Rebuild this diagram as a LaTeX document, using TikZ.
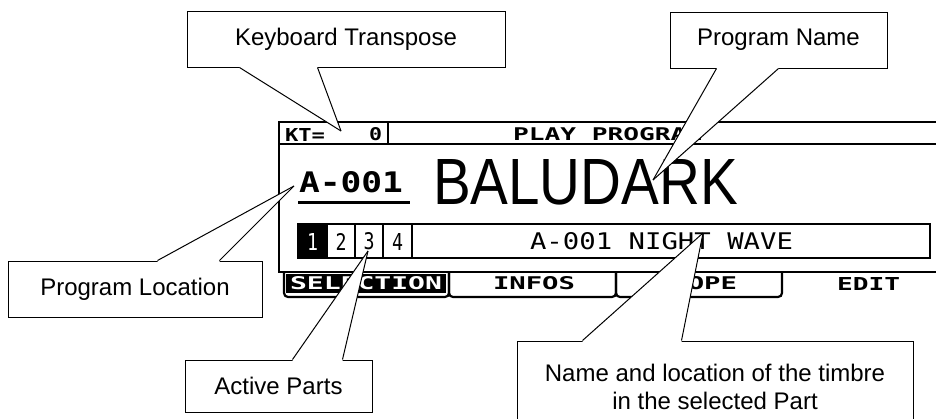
\documentclass[tikz,border=0pt]{standalone}
\usepackage{fontspec}
\setmainfont{Liberation Sans}
\newfontfamily\lcdfont{DejaVu Sans Mono}
\usepackage{graphicx}
\usetikzlibrary{calc}
\newcommand{\fitlcd}[3]{\resizebox{#1pt}{#2pt}{\lcdfont #3}}
\newcommand{\fitbig}[3]{\resizebox{#1pt}{#2pt}{#3}}
\begin{document}
\begin{tikzpicture}[x=1pt,y=-1pt,
  lcd/.style={line width=2.2pt},
  lcdtxt/.style={inner sep=0pt, outer sep=0pt, anchor=south west},
  callout/.style={draw, fill=white, line width=1pt, inner sep=0pt, align=center,
    font=\fontsize{24}{28}\selectfont},
  ptr/.style={line width=1pt}]
\clip (0,0) rectangle (936,418);
\fill[white] (0,0) rectangle (936,418);

% ---------- display ----------
\draw[lcd] (936,122) -- (279,122) -- (279,272) -- (936,272);
\draw[lcd] (279,144) -- (936,144);
\draw[lcd] (388,122) -- (388,144);
% tabs
\fill (286,273.5) rectangle (446,293);
\draw[lcd, rounded corners=4pt] (284,272) -- (284,297) -- (449,297) -- (449,272);
\draw[lcd, rounded corners=4pt] (449,272) -- (449,297) -- (616,297) -- (616,272);
\draw[lcd, rounded corners=4pt] (616,272) -- (616,297) -- (782,297) -- (782,272);
% parts row
\fill (298,224) rectangle (327,258);
\draw[lcd] (298,224) rectangle (930,258);
\draw[lcd] (327,224) -- (327,258);
\draw[lcd] (355,224) -- (355,258);
\draw[lcd] (383,224) -- (383,258);
\draw[lcd] (412,224) -- (412,258);
% underline
\draw[line width=3pt] (298,202.5) -- (410,202.5);

% texts
\node[lcdtxt] (kt0) at (285,141) {\fitlcd{40}{13}{\bfseries KT=}};
\node[lcdtxt] (kt0v) at (369,141) {\fitlcd{13}{13}{\bfseries 0}};
\node[lcdtxt] (play) at (513,141) {\fitlcd{189}{13}{\bfseries PLAY PROGRAM}};
\node[lcdtxt] (loc) at (299,193) {\fitlcd{104}{21}{\bfseries A-001}};
\node[lcdtxt] (bal) at (433,205) {\fitbig{305}{45}{BALUDARK}};
\node[lcdtxt, text=white] (p1) at (307,250) {\fitlcd{11}{17}{1}};
\node[lcdtxt] (p2) at (335.5,250) {\fitlcd{11}{17}{2}};
\node[lcdtxt] (p3) at (363.5,250) {\fitlcd{11}{17}{3}};
\node[lcdtxt] (p4) at (392,250) {\fitlcd{11}{17}{4}};
\node[lcdtxt] (wave) at (530,250) {\fitlcd{263}{17}{A-001 NIGHT WAVE}};
\node[lcdtxt, text=white] (sel) at (290,290) {\fitlcd{152}{13}{\bfseries SELECTION}};
\node[lcdtxt] (inf) at (493,290) {\fitlcd{82}{13}{\bfseries INFOS}};
\node[lcdtxt] (scp) at (655,290) {\fitlcd{82}{13}{\bfseries SCOPE}};
\node[lcdtxt] (edt) at (837,290) {\fitlcd{63}{13}{\bfseries EDIT}};

% ---------- callouts ----------
\node[callout, minimum width=318pt, minimum height=56pt] (kt) at (346,39) {Keyboard Transpose};
\node[callout, minimum width=217pt, minimum height=56pt] (pname) at (778.5,40) {Program Name};
\node[callout, minimum width=254pt, minimum height=56pt] (ploc) at (135,289) {Program Location};
\node[callout, minimum width=187pt, minimum height=52pt] (aparts) at (278.5,386) {Active Parts};
\node[callout, minimum width=396pt, minimum height=92pt] (tname) at (715,387)
  {Name and location of the timbre\\in the selected Part};

% pointers
\coordinate (kt1) at ($(kt.south west)+(53,0)$);
\coordinate (kt2) at ($(kt.south west)+(131,0)$);
\coordinate (kttip) at (341,131);
\fill[white] ($(kt1)+(0,-2)$) -- (kt1) -- (kttip) -- (kt2) -- ($(kt2)+(0,-2)$) -- cycle;
\draw[ptr] (kt1) -- (kttip);
\draw[ptr] (kt2) -- (kttip);

\coordinate (pn1) at ($(pname.south west)+(47,0)$);
\coordinate (pn2) at ($(pname.south west)+(109,0)$);
\coordinate (pntip) at (653,180);
\fill[white] ($(pn1)+(0,-2)$) -- (pn1) -- (pntip) -- (pn2) -- ($(pn2)+(0,-2)$) -- cycle;
\draw[ptr] (pn1) -- (pntip);
\draw[ptr] (pn2) -- (pntip);

\coordinate (pl1) at ($(ploc.north west)+(150,0)$);
\coordinate (pl2) at ($(ploc.north west)+(212,0)$);
\coordinate (pltip) at (294,186);
\fill[white] ($(pl1)+(0,2)$) -- (pl1) -- (pltip) -- (pl2) -- ($(pl2)+(0,2)$) -- cycle;
\draw[ptr] (pl1) -- (pltip);
\draw[ptr] (pl2) -- (pltip);

\coordinate (ap1) at ($(aparts.north west)+(108,0)$);
\coordinate (ap2) at ($(aparts.north west)+(158,0)$);
\coordinate (aptip) at (368,251);
\fill[white] ($(ap1)+(0,2)$) -- (ap1) -- (aptip) -- (ap2) -- ($(ap2)+(0,2)$) -- cycle;
\draw[ptr] (ap1) -- (aptip);
\draw[ptr] (ap2) -- (aptip);

\coordinate (tn1) at ($(tname.north west)+(66,0)$);
\coordinate (tn2) at ($(tname.north west)+(165,0)$);
\coordinate (tntip) at (703,233);
\fill[white] ($(tn1)+(0,2)$) -- (tn1) -- (tntip) -- (tn2) -- ($(tn2)+(0,2)$) -- cycle;
\draw[ptr] (tn1) -- (tntip);
\draw[ptr] (tn2) -- (tntip);
\end{tikzpicture}
\end{document}
